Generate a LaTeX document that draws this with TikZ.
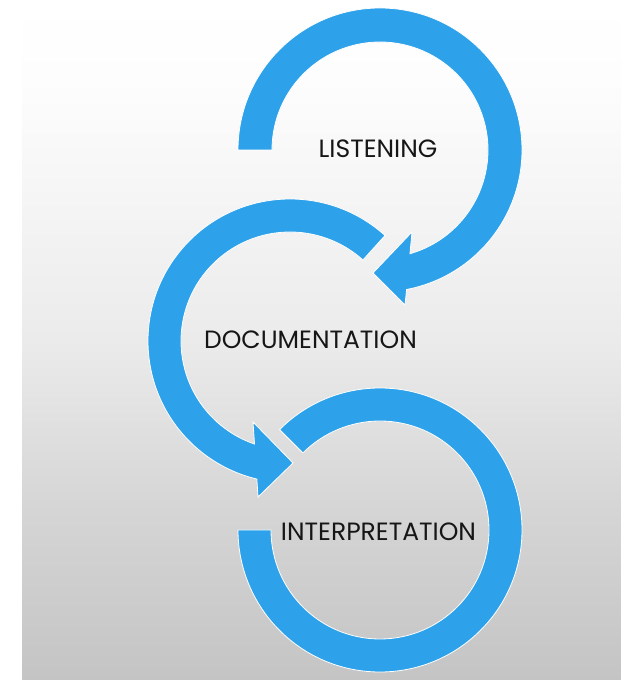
\documentclass[tikz,border=0pt]{standalone}
\usepackage{fontspec}
\setmainfont{Poppins}
\definecolor{cyc}{RGB}{45,161,234}
\definecolor{txt}{RGB}{22,22,22}
\definecolor{bgA}{RGB}{196,196,196}
\definecolor{bgB}{RGB}{213,213,213}
\definecolor{bgC}{RGB}{235,235,235}
\definecolor{bgD}{RGB}{247,247,247}
\definecolor{bgE}{RGB}{253,253,253}
\pgfdeclareverticalshading{bgshade}{100bp}{color(0bp)=(bgA); color(25bp)=(bgA); color(37.5bp)=(bgB); color(50bp)=(bgC); color(62.5bp)=(bgD); color(69bp)=(bgE); color(75bp)=(white); color(100bp)=(white)}
\begin{document}
\begin{tikzpicture}[x=1pt,y=1pt,
  ring/.style={fill=cyc, draw=white, line width=0.8pt, line join=miter},
  lbl/.style={font=\fontsize{25}{25}\selectfont, text=txt, inner sep=0pt},
  orn/.style={draw=gray!45, line width=0.8pt}]
\useasboundingbox (0,0) rectangle (621,680);
\fill[white] (0,0) rectangle (621,680);
\shade[shading=bgshade] (22,0) rectangle (621,680);

\coordinate (c1) at (380,530);
\coordinate (c2) at (290,339);
\coordinate (c3) at (380,150);

% arc 1 (listening -> documentation)
\path[ring] ([shift={(180:142)}]c1) arc[start angle=180,end angle=-79.2,radius=142]
  -- (405,375) -- (373,407) -- (412,448)
  -- ([shift={(-73.9:108)}]c1) arc[start angle=-73.9,end angle=180,radius=108] -- cycle;

% arc 2 (documentation -> interpretation)
\path[ring] ([shift={(48:142)}]c2) arc[start angle=48,end angle=256.5,radius=142]
  -- (258,183) -- (293,217) -- (253,258)
  -- ([shift={(251:109)}]c2) arc[start angle=251,end angle=48,radius=109] -- cycle;

% arc 3 (interpretation)
\path[ring] ([shift={(135:142)}]c3) arc[start angle=135,end angle=-180,radius=142]
  -- ([shift={(180:109)}]c3) arc[start angle=-180,end angle=135,radius=109] -- cycle;

\node[lbl] (listening) at (378,531.5) {LISTENING};
\node[lbl] (documentation) at (310.5,340) {DOCUMENTATION};
\node[lbl] (interpretation) at (378.5,148) {INTERPRETATION};

% faint ornaments at the bottom
\draw[orn] (258,12) circle[radius=6];
\draw[orn] (468,-6) circle[radius=22];
\end{tikzpicture}
\end{document}
